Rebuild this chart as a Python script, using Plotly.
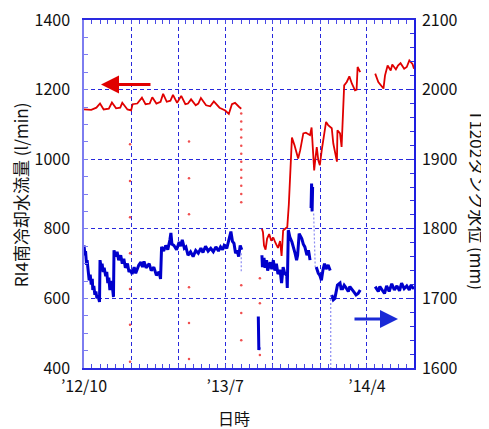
import plotly.graph_objects as go

# ---------------- data ----------------
# RI4 south cooling water flow (l/min), left axis
red_dates = [
    "2012-10-01", "2012-10-15", "2012-10-25", "2012-11-01", "2012-11-08", "2012-11-18", "2012-11-24",
    "2012-12-02", "2012-12-10", "2012-12-14", "2012-12-24", "2012-12-31", "2013-01-03", "2013-01-12",
    "2013-01-21", "2013-01-28", "2013-02-05", "2013-02-10", "2013-02-18", "2013-02-26", "2013-03-03",
    "2013-03-10", "2013-03-17", "2013-03-22", "2013-03-30", "2013-04-07", "2013-04-15", "2013-04-20",
    "2013-04-26", "2013-05-05", "2013-05-10", "2013-05-15", "2013-05-25", "2013-06-02", "2013-06-09",
    "2013-06-20", "2013-07-01", "2013-07-08", "2013-07-14", "2013-07-20", "2013-07-28", "2013-08-01",
    None,
    "2013-09-10", "2013-09-12", "2013-09-14", "2013-09-17", "2013-09-20", "2013-09-24", "2013-09-28",
    "2013-10-02", "2013-10-06", "2013-10-11", "2013-10-15", "2013-10-18", "2013-10-21", "2013-10-25",
    "2013-10-29", "2013-11-01", "2013-11-04", "2013-11-07", "2013-11-12", "2013-11-19", "2013-11-23",
    "2013-11-29", "2013-12-04", "2013-12-12", "2013-12-15", "2013-12-17", "2013-12-20", "2013-12-23",
    "2013-12-25", "2013-12-28", "2013-12-31", "2014-01-04", "2014-01-07", "2014-01-12", "2014-01-16",
    "2014-01-20", "2014-01-23", "2014-01-26", "2014-02-02", "2014-02-03", "2014-02-08", "2014-02-11",
    "2014-02-14", "2014-02-16", "2014-02-21", "2014-02-26", "2014-03-03", "2014-03-09", "2014-03-12",
    "2014-03-14", "2014-03-19",
    None,
    "2014-04-17", "2014-04-23", "2014-05-03", "2014-05-06", "2014-05-11", "2014-05-17", "2014-05-20",
    "2014-05-27", "2014-05-31", "2014-06-05", "2014-06-12", "2014-06-17", "2014-06-22", "2014-06-28",
    "2014-07-01",
]
red_vals = [
    1143, 1142, 1148, 1160, 1143, 1145, 1163,
    1146, 1148, 1162, 1143, 1140, 1158, 1160,
    1177, 1158, 1160, 1178, 1160, 1165, 1188,
    1165, 1168, 1185, 1162, 1182, 1158, 1160,
    1172, 1155, 1160, 1176, 1155, 1152, 1166,
    1148, 1140, 1130, 1158, 1162, 1150, 1145,
    None,
    800, 790, 752, 740, 772, 785, 766,
    775, 760, 745, 765, 722, 795, 800,
    805, 870, 960, 1062, 1040, 1002, 1026,
    1074, 1076, 1069, 1091, 1035, 968, 1010,
    1035, 997, 983, 1030, 1064, 1107, 1098,
    1093, 1089, 1045, 993, 1083, 1074, 1035,
    1140, 1212, 1222, 1238, 1217, 1198, 1200,
    1265, 1250,
    None,
    1246, 1222, 1203, 1241, 1269, 1255, 1272,
    1258, 1269, 1276, 1260, 1265, 1284, 1274,
    1260,
]

# isolated flow readings (outliers)
red_dot_dates = (["2012-12-29"] * 7 + ["2013-04-22"] * 6 + ["2013-08-01"] * 15
                 + ["2013-09-06"] * 3)
red_dot_vals = [1043, 937, 833, 730, 627, 524, 418,
                1051, 945, 842, 632, 529, 426,
                1131, 1108, 1085, 1062, 1039, 1016, 993, 970, 947, 924, 900, 876, 638, 558, 480,
                658, 586, 437]

# T1202 tank water level (mm), right axis
blue_dates = [
    "2012-10-01", "2012-10-03", "2012-10-04", "2012-10-06", "2012-10-07", "2012-10-09", "2012-10-11",
    "2012-10-13", "2012-10-15", "2012-10-17", "2012-10-18", "2012-10-20", "2012-10-22", "2012-10-24",
    "2012-10-26", "2012-10-28", "2012-10-31", "2012-11-01", "2012-11-03", "2012-11-05", "2012-11-07",
    "2012-11-09", "2012-11-12", "2012-11-14", "2012-11-16", "2012-11-18", "2012-11-20", "2012-11-22",
    "2012-11-25", "2012-11-27", "2012-11-28", "2012-12-01", "2012-12-04", "2012-12-07", "2012-12-11",
    "2012-12-14", "2012-12-17", "2012-12-20", "2012-12-24", "2012-12-27", "2012-12-30", "2013-01-02",
    "2013-01-06", "2013-01-09", "2013-01-12", "2013-01-15", "2013-01-19", "2013-01-22", "2013-01-25",
    "2013-01-29", "2013-02-04", "2013-02-08", "2013-02-13", "2013-02-18", "2013-02-23", "2013-02-26",
    "2013-02-28", "2013-03-04", "2013-03-08", "2013-03-12", "2013-03-16", "2013-03-18", "2013-03-20",
    "2013-03-24", "2013-03-29", "2013-04-03", "2013-04-06", "2013-04-09", "2013-04-13", "2013-04-16",
    "2013-04-20", "2013-04-25", "2013-04-30", "2013-05-05", "2013-05-10", "2013-05-15", "2013-05-19",
    "2013-05-24", "2013-05-29", "2013-06-03", "2013-06-08", "2013-06-13", "2013-06-18", "2013-06-22",
    "2013-06-26", "2013-06-29", "2013-07-04", "2013-07-08", "2013-07-12", "2013-07-15", "2013-07-18",
    "2013-07-21", "2013-07-24", "2013-07-27", "2013-07-30", "2013-08-02",
    None,
    "2013-09-03", "2013-09-04", "2013-09-04", "2013-09-05",
    None,
    "2013-09-10", "2013-09-11", "2013-09-14", "2013-09-16", "2013-09-19", "2013-09-21", "2013-09-26",
    "2013-09-29", "2013-10-02", "2013-10-05", "2013-10-08", "2013-10-11", "2013-10-15", "2013-10-18",
    "2013-10-21", "2013-10-24", "2013-10-28", "2013-10-29", "2013-10-31", "2013-11-03", "2013-11-07",
    "2013-11-10", "2013-11-13", "2013-11-16", "2013-11-18", "2013-11-21", "2013-11-26", "2013-11-29",
    "2013-12-02", "2013-12-06", "2013-12-09", "2013-12-10", "2013-12-12",
    None,
    "2013-12-14", "2013-12-15", "2013-12-16", "2013-12-17",
    None,
    "2013-12-24", "2013-12-28", "2013-12-31", "2014-01-03", "2014-01-06", "2014-01-09", "2014-01-12",
    "2014-01-16", "2014-01-20",
    None,
    "2014-01-23", "2014-01-26", "2014-01-29", "2014-02-03", "2014-02-08", "2014-02-10", "2014-02-13",
    "2014-02-16", "2014-02-19", "2014-02-24", "2014-02-27", "2014-03-03", "2014-03-06", "2014-03-11",
    "2014-03-15", "2014-03-19",
    None,
    "2014-04-17", "2014-04-23", "2014-04-26", "2014-05-05", "2014-05-09", "2014-05-14", "2014-05-19",
    "2014-05-24", "2014-05-29", "2014-06-03", "2014-06-07", "2014-06-12", "2014-06-17", "2014-06-22",
    "2014-06-25", "2014-06-30", "2014-07-01",
]
blue_vals = [
    1776, 1762, 1768, 1748, 1755, 1738, 1726,
    1734, 1720, 1728, 1712, 1718, 1705, 1710,
    1700, 1704, 1695, 1755, 1745, 1750, 1738,
    1744, 1732, 1738, 1722, 1730, 1712, 1725,
    1716, 1702, 1769, 1760, 1767, 1755, 1762,
    1750, 1757, 1744, 1750, 1738, 1741, 1735,
    1745, 1736, 1743, 1748, 1752, 1745, 1753,
    1744, 1750, 1740, 1745, 1733, 1738, 1728,
    1774, 1768, 1776, 1770, 1784, 1794, 1778,
    1776, 1770, 1781, 1775, 1784, 1772, 1774,
    1762, 1767, 1760, 1769, 1765, 1772, 1766,
    1775, 1768, 1772, 1767, 1774, 1768, 1774,
    1770, 1776, 1772, 1786, 1796, 1782, 1779,
    1765, 1769, 1760, 1776, 1770,
    None,
    1674, 1626, 1672, 1630,
    None,
    1762, 1745, 1758, 1744, 1755, 1740, 1752,
    1742, 1755, 1740, 1750, 1735, 1741, 1722,
    1745, 1736, 1733, 1715, 1798, 1788, 1781,
    1774, 1765, 1755, 1762, 1793, 1786, 1778,
    1774, 1762, 1769, 1765, 1755,
    None,
    1830, 1865, 1825, 1860,
    None,
    1745, 1736, 1733, 1726, 1741, 1750, 1742,
    1748, 1740,
    None,
    1705, 1698, 1700, 1719, 1722, 1714, 1714,
    1719, 1716, 1710, 1717, 1712, 1710, 1705,
    1707, 1712,
    None,
    1717, 1710, 1717, 1707, 1718, 1710, 1721,
    1712, 1718, 1711, 1722, 1714, 1718, 1712,
    1719, 1714, 1716,
]

# sparse (dotted) level transitions
blue_drop_dates = ["2013-08-01", "2013-08-01", None, "2013-12-19", "2013-12-22", None,
                   "2014-01-21", "2014-01-21"]
blue_drop_vals = [1765, 1736, None, 1822, 1745, None, 1705, 1600]

# axis ticks
quarter_ticks = ["2012-10-01", "2013-01-01", "2013-04-01", "2013-07-01",
                 "2013-10-01", "2014-01-01", "2014-04-01", "2014-07-01"]
quarter_text = ["\u201912/10", "", "", "\u201913/7", "", "", "\u201914/4", ""]

# ---------------- figure ----------------
minor_x = []
for yr in (2012, 2013, 2014):
    for mo in range(1, 13):
        for dd in (1, 16):
            s = f"{yr}-{mo:02d}-{dd:02d}"
            if "2012-10-01" <= s <= "2014-07-01":
                minor_x.append(s)

FONT = "Noto Sans CJK JP"
TXT = "#111111"
BLUE = "#0000cc"
RED = "#e00000"
GRID = "#2828dc"

fig = go.Figure()
fig.add_trace(go.Scatter(x=blue_dates, y=blue_vals, mode="lines", yaxis="y",
                         line=dict(color=BLUE, width=3), connectgaps=False,
                         hoverinfo="skip", showlegend=False))
fig.add_trace(go.Scatter(x=blue_drop_dates, y=blue_drop_vals, mode="lines", yaxis="y",
                         line=dict(color="#8c8cf2", width=1.2, dash="2px,2px"),
                         connectgaps=False, hoverinfo="skip", showlegend=False))
fig.add_trace(go.Scatter(x=red_dates, y=red_vals, mode="lines", yaxis="y2",
                         line=dict(color=RED, width=1.8), connectgaps=False,
                         hoverinfo="skip", showlegend=False))
fig.add_trace(go.Scatter(x=red_dot_dates, y=red_dot_vals, mode="markers", yaxis="y2",
                         marker=dict(color="#f05050", size=2.5),
                         hoverinfo="skip", showlegend=False))

# the page body adds an 8 px offset, so the figure is 8 px smaller on each side
fig.update_layout(
    width=481, height=421,
    margin=dict(l=76, r=75, t=12, b=61),
    paper_bgcolor="white", plot_bgcolor="white",
    font=dict(family=FONT, size=16, color=TXT),
    xaxis=dict(
        type="date", range=["2012-10-01", "2014-07-01"], automargin=False,
        tickmode="array", tickvals=quarter_ticks, ticktext=quarter_text,
        showgrid=True, gridcolor=GRID, gridwidth=1, griddash="4px,3px",
        ticks="inside", ticklen=4, tickcolor="#4a4ae6",
        minor=dict(tickmode="array", tickvals=minor_x, ticks="inside", ticklen=4,
                   tickcolor="#4a4ae6", showgrid=False),
        showline=True, linecolor="#2a2ae0", linewidth=1.5, mirror="allticks",
        zeroline=False, tickfont=dict(family=FONT, size=16, color=TXT),
        ticklabelstandoff=3, ticklabeloverflow="allow",
    ),
    yaxis=dict(
        range=[1600, 2100], side="right", dtick=100, tick0=1600, automargin=False,
        showgrid=True, gridcolor=GRID, gridwidth=1, griddash="4px,3px",
        ticks="inside", ticklen=4, tickcolor="#3030e0",
        minor=dict(dtick=20, ticks="inside", ticklen=4, tickcolor="#3030e0", showgrid=False),
        showline=True, linecolor="#1e1ee0", linewidth=1.5,
        zeroline=False, tickfont=dict(family=FONT, size=16, color=TXT),
        ticklabelstandoff=3, ticklabeloverflow="allow",
    ),
    yaxis2=dict(
        range=[400, 1400], side="left", overlaying="y", dtick=200, tick0=400, automargin=False,
        showgrid=False,
        ticks="inside", ticklen=4, tickcolor="#7d7df0",
        minor=dict(dtick=50, ticks="inside", ticklen=4, tickcolor="#7d7df0", showgrid=False),
        showline=True, linecolor="#7d7df0", linewidth=1.5,
        zeroline=False, tickfont=dict(family=FONT, size=16, color=TXT),
        ticklabelstandoff=9, ticklabeloverflow="allow",
    ),
    annotations=[
        dict(text="RI4南冷却水流量 (l/min)", xref="paper", yref="paper",
             x=-0.194, y=0.499, textangle=-90, showarrow=False,
             xanchor="center", yanchor="middle",
             font=dict(family=FONT, size=17, color=TXT)),
        dict(text="T1202タンク水位 (mm)", xref="paper", yref="paper",
             x=1.194, y=0.482, textangle=90, showarrow=False,
             xanchor="center", yanchor="middle",
             font=dict(family=FONT, size=17, color=TXT)),
        dict(text="日時", xref="paper", yref="paper",
             x=0.4545, y=-0.1435, showarrow=False,
             xanchor="center", yanchor="middle",
             font=dict(family=FONT, size=16, color=TXT)),
        dict(text="", xref="paper", yref="paper", x=0.0515, y=0.815,
             ax=51, ay=0, showarrow=True, arrowhead=2, arrowsize=1.2,
             arrowwidth=3, arrowcolor=RED, standoff=0),
        dict(text="", xref="paper", yref="paper", x=0.9515, y=0.1406,
             ax=-45, ay=0, showarrow=True, arrowhead=2, arrowsize=1.2,
             arrowwidth=3, arrowcolor="#1a2ad6", standoff=0),
    ],
)

fig.write_html("out.html")
